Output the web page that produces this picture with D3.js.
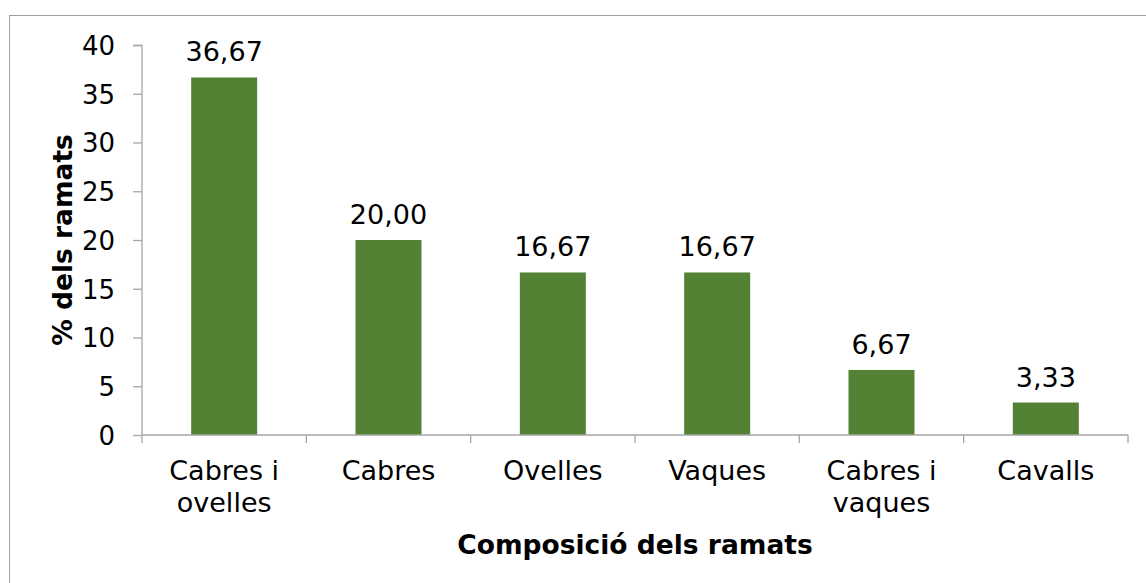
<!DOCTYPE html>
<html>
<head>
<meta charset="utf-8">
<script src="https://cdn.jsdelivr.net/npm/d3@7"></script>
<style>
  body { margin: 0; background: #fff; }
  text { font-family: Verdana, "DejaVu Sans", sans-serif; fill: #000; }
</style>
</head>
<body>
<div id="chart"></div>
<script>
// data
var categories = [["Cabres i", "ovelles"], ["Cabres"], ["Ovelles"], ["Vaques"], ["Cabres i", "vaques"], ["Cavalls"]];
var values = [36.67, 20.00, 16.67, 16.67, 6.67, 3.33];
var yTicks = [0, 5, 10, 15, 20, 25, 30, 35, 40];

var W = 1146, H = 583;
var margin = {top: 45, right: 18, bottom: 148, left: 142},
    width = 1128 - margin.left,
    height = 435 - margin.top;

var svg = d3.select("#chart")
    .append("svg")
    .attr("width", W)
    .attr("height", H);

// outer frame
svg.append("rect")
    .attr("x", 9.5).attr("y", 15.5)
    .attr("width", W).attr("height", H)
    .attr("fill", "none")
    .attr("stroke", "#a0a0a0");

var g = svg.append("g")
    .attr("transform", "translate(" + margin.left + "," + margin.top + ")");

// one band per category, ticks sit on band edges
var xb = d3.scaleBand()
    .domain(d3.range(values.length))
    .range([0, width]);

var y = d3.scaleLinear()
    .domain([0, 40])
    .range([height, 0]);

var barW = 66;

// bars
g.selectAll("rect.bar")
    .data(values)
    .join("rect")
    .attr("class", "bar")
    .attr("x", (d, i) => xb(i) + xb.bandwidth() / 2 - barW / 2)
    .attr("width", barW)
    .attr("y", d => y(d))
    .attr("height", d => height - y(d))
    .attr("fill", "#548235");

// value labels
g.selectAll("text.val")
    .data(values)
    .join("text")
    .attr("class", "val")
    .attr("x", (d, i) => xb(i) + xb.bandwidth() / 2)
    .attr("y", d => y(d) - 16)
    .attr("text-anchor", "middle")
    .style("font-size", "27px")
    .text(d => d.toFixed(2).replace(".", ","));

// y axis
var yAxis = g.append("g")
    .call(d3.axisLeft(y).tickValues(yTicks).tickSize(9).tickPadding(18));
yAxis.selectAll("path, line").attr("stroke", "#a6a6a6").attr("stroke-width", 1.3);
yAxis.select(".domain").attr("d", "M-9,0.5H0V" + (height + 0.5));
yAxis.selectAll("text")
    .style("font-size", "26px")
    .attr("dy", "0.36em");

// x axis line and ticks
var xg = g.append("g").attr("transform", "translate(0," + height + ")");
xg.append("line")
    .attr("x1", 0).attr("x2", width)
    .attr("stroke", "#a6a6a6").attr("stroke-width", 1.3);
xg.selectAll("line.tk")
    .data(d3.range(values.length + 1))
    .join("line")
    .attr("class", "tk")
    .attr("x1", i => i < values.length ? xb(i) : width)
    .attr("x2", i => i < values.length ? xb(i) : width)
    .attr("y1", 0).attr("y2", 8)
    .attr("stroke", "#a6a6a6").attr("stroke-width", 1.3);

// category labels
xg.selectAll("text.cat")
    .data(categories)
    .join("text")
    .attr("class", "cat")
    .attr("text-anchor", "middle")
    .style("font-size", "27px")
    .each(function(lines, i) {
        d3.select(this).selectAll("tspan")
            .data(lines)
            .join("tspan")
            .attr("x", xb(i) + xb.bandwidth() / 2)
            .attr("y", (l, j) => 45 + j * 32)
            .text(l => l);
    });

// axis titles
svg.append("text")
    .attr("x", 635)
    .attr("y", 554)
    .attr("text-anchor", "middle")
    .style("font-size", "26.5px")
    .style("font-weight", "bold")
    .text("Composició dels ramats");

svg.append("text")
    .attr("transform", "translate(72,240)rotate(-90)")
    .attr("text-anchor", "middle")
    .style("font-size", "26.5px")
    .style("font-weight", "bold")
    .text("% dels ramats");
</script>
</body>
</html>
